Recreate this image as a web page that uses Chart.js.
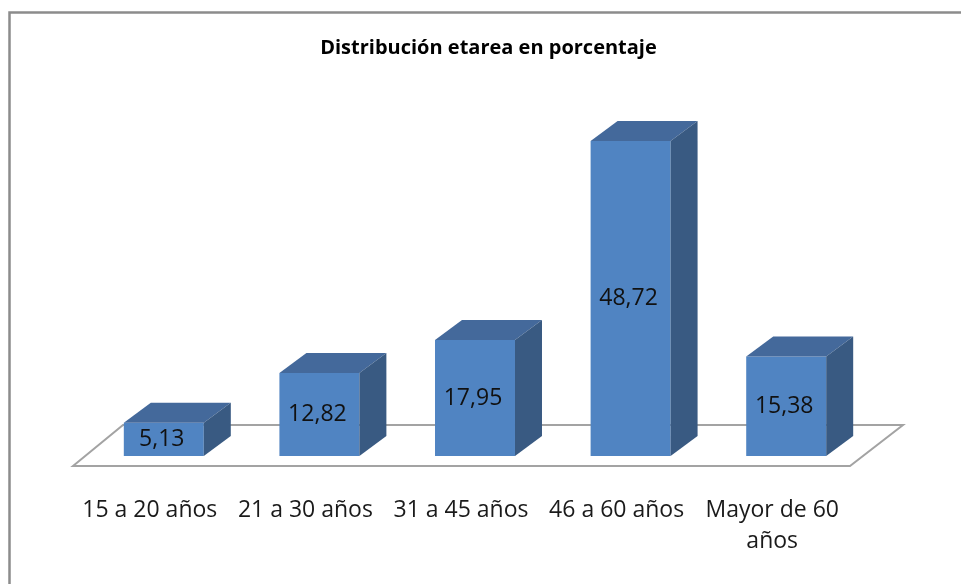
<!DOCTYPE html>
<html>
<head>
<meta charset="utf-8">
<script src="https://cdn.jsdelivr.net/npm/chart.js@4"></script>
<style>
  body { margin: 0; background: #fff; }
  canvas { display: block; }
</style>
</head>
<body>
<canvas id="edadChart" width="961" height="584"></canvas>
<script>
// datos
var titulo = 'Distribución etarea en porcentaje'
var categorias = ['15 a 20 años', '21 a 30 años', '31 a 45 años', '46 a 60 años', ['Mayor de 60', 'años']]
var valores = [5.13, 12.82, 17.95, 48.72, 15.38]

var colorFrente = '#5084c2'
var colorArriba = '#44699b'
var colorLado = '#395a82'
var prof = { dx: 27, dy: -20 }

// marco gris arriba e izquierda + titulo
var marco = {
    id: 'marco',
    beforeDraw: function(chart) {
        var ctx = chart.ctx
        ctx.save()
        ctx.strokeStyle = '#8c8c8c'
        ctx.lineWidth = 2.5
        ctx.beginPath()
        ctx.moveTo(9.5, 584)
        ctx.lineTo(9.5, 12.5)
        ctx.lineTo(961, 12.5)
        ctx.stroke()

        ctx.fillStyle = '#000'
        ctx.font = 'bold 20px "Open Sans"'
        ctx.textAlign = 'center'
        ctx.textBaseline = 'middle'
        ctx.fillText(titulo, 488.5, 48)
        ctx.restore()
    }
}

// piso y caras 3d de las barras
var barras3d = {
    id: 'barras3d',
    beforeDatasetsDraw: function(chart) {
        var ctx = chart.ctx
        var a = chart.chartArea
        var base = chart.scales.y.getPixelForValue(0)
        ctx.save()
        ctx.fillStyle = '#fff'
        ctx.strokeStyle = '#a3a3a3'
        ctx.lineWidth = 2
        ctx.beginPath()
        ctx.moveTo(a.left - 13, base + 10)
        ctx.lineTo(a.left + 37, base - 31)
        ctx.lineTo(a.right + 39, base - 31)
        ctx.lineTo(a.right - 14, base + 10)
        ctx.closePath()
        ctx.fill()
        ctx.stroke()
        ctx.restore()
    },
    afterDatasetsDraw: function(chart) {
        var ctx = chart.ctx
        var meta = chart.getDatasetMeta(0)
        ctx.save()
        meta.data.forEach(function(bar, i) {
            var p = bar.getProps(['x', 'y', 'base', 'width'], true)
            var l = p.x - p.width / 2
            var r = p.x + p.width / 2
            ctx.fillStyle = colorArriba
            ctx.beginPath()
            ctx.moveTo(l, p.y)
            ctx.lineTo(l + prof.dx, p.y + prof.dy)
            ctx.lineTo(r + prof.dx, p.y + prof.dy)
            ctx.lineTo(r, p.y)
            ctx.closePath()
            ctx.fill()
            ctx.fillStyle = colorLado
            ctx.beginPath()
            ctx.moveTo(r, p.y)
            ctx.lineTo(r + prof.dx, p.y + prof.dy)
            ctx.lineTo(r + prof.dx, p.base + prof.dy)
            ctx.lineTo(r, p.base)
            ctx.closePath()
            ctx.fill()

            ctx.fillStyle = '#111'
            ctx.font = '23px "Open Sans"'
            ctx.textAlign = 'center'
            ctx.textBaseline = 'middle'
            var txt = valores[i].toFixed(2).replace('.', ',')
            ctx.fillText(txt, p.x - 2, (p.y + p.base) / 2)
        })
        ctx.restore()
    }
}

var ctx = document.getElementById('edadChart').getContext('2d')
var edadChart = new Chart(ctx, {
    type: 'bar',
    data: {
        labels: categorias,
        datasets: [{
            data: valores,
            backgroundColor: colorFrente,
            borderWidth: 0,
            categoryPercentage: 1,
            barPercentage: 0.514
        }]
    },
    options: {
        responsive: false,
        animation: false,
        layout: {
            padding: { left: 86, right: 97, top: 132.7, bottom: 0 }
        },
        scales: {
            x: {
                grid: { display: false, drawTicks: false },
                border: { display: false },
                ticks: {
                    color: '#1a1a1a',
                    font: { family: 'Open Sans', size: 23, lineHeight: 1.35 },
                    padding: 38.5,
                    labelOffset: -14,
                    maxRotation: 0,
                    autoSkip: false
                },
                afterFit: function(axis) { axis.height = 128 }
            },
            y: {
                display: false,
                min: 0,
                max: 50
            }
        },
        plugins: {
            legend: { display: false },
            tooltip: { enabled: false }
        }
    },
    plugins: [marco, barras3d]
});
</script>
</body>
</html>
